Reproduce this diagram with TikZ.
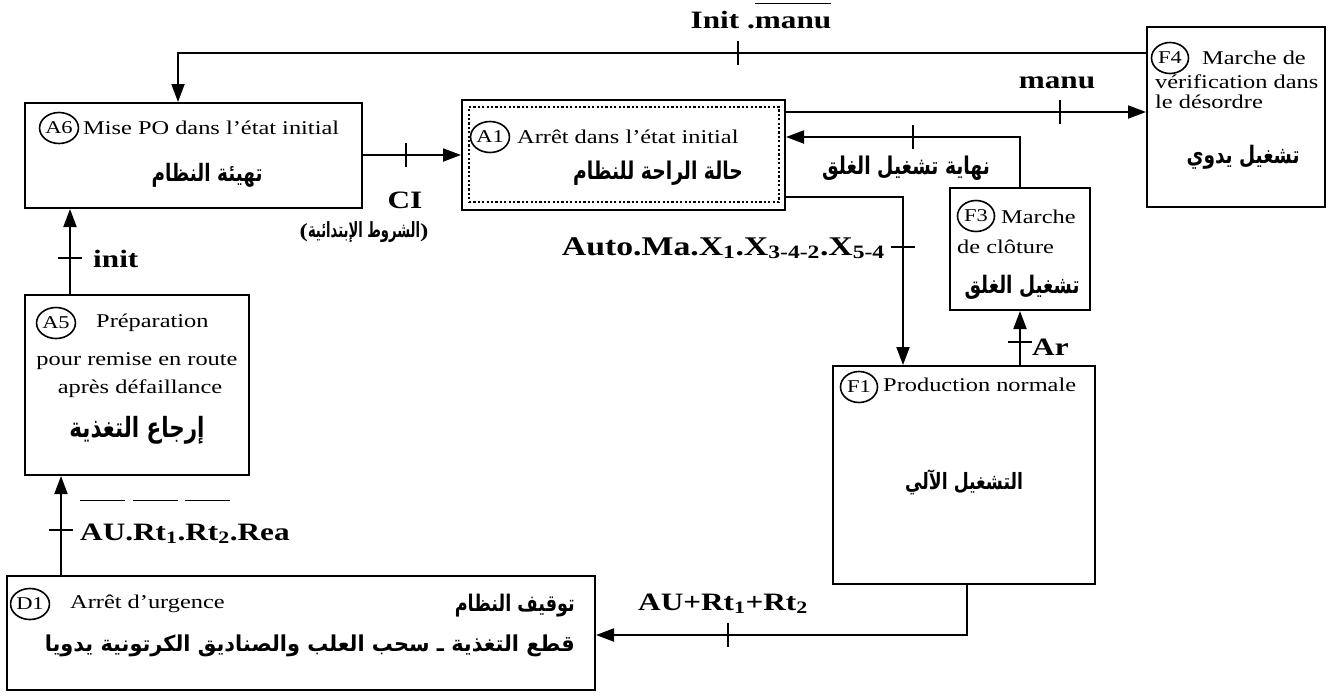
\documentclass[tikz,border=0pt]{standalone}
\usepackage{graphicx}
\usepackage{fontspec}
\setmainfont{Liberation Serif}[FakeStretch=1.25]
\newfontfamily\arabicfont[Script=Arabic]{DejaVu Sans}
\TeXXeTstate=1
\usetikzlibrary{arrows.meta,shapes.geometric,fit}
\newcommand\artxt[3][1.3]{\scalebox{1}[#1]{\resizebox{#2}{!}{\arabicfont\bfseries #3}}}
\newcommand\ovl[2]{\setbox0\hbox{#2}\rlap{\raisebox{#1}{\rule{\wd0}{1.6pt}}}\box0}
\tikzset{
  box/.style={draw, line width=2pt, inner sep=0pt},
  inbox/.style={draw, line width=1.4pt, dash pattern=on 2.2pt off 2.2pt, inner sep=0pt},
  txt/.style={inner sep=0pt, font=\fontsize{19.5}{22}\selectfont},
  lab/.style={inner sep=0pt, font=\fontsize{25}{28}\selectfont\bfseries},
  circ/.style={draw, ellipse, line width=1.6pt, minimum width=37pt, minimum height=31pt, inner sep=0pt, font=\fontsize{18}{18}\selectfont},
  conn/.style={line width=2pt, -{Triangle[length=18pt,width=13pt]}},
  tk/.style={line width=1.6pt}
}
\begin{document}
\begin{tikzpicture}[x=1pt,y=-1pt]
\useasboundingbox (0,0) rectangle (1333,697);
\fill[white] (0,0) rectangle (1333,697);
% boxes
\node[box, fit={(25,103) (362,208)}] (A6) {};
\node[box, fit={(462,100) (785,210)}] (A1) {};
\node[inbox, fit={(469,107) (779,202)}] (A1i) {};
\node[box, fit={(1147,27) (1325,207)}] (F4) {};
\node[box, fit={(950,188) (1090,310)}] (F3) {};
\node[box, fit={(833,366) (1095,584)}] (F1) {};
\node[box, fit={(25,295) (249,475)}] (A5) {};
\node[box, fit={(7,576) (595,690)}] (D1) {};
% box texts
\node[circ] (cA6) at (59,128) {A6};
\node[txt, anchor=west] (tA6) at (83,128) {Mise PO dans l’état initial};
\node[txt] (aA6) at (207,175) {\artxt{111pt}{\beginR تهيئة النظام\endR}};
\node[circ] (cA1) at (490,137) {A1};
\node[txt, anchor=west] (tA1) at (517,137) {Arrêt dans l’état initial};
\node[txt] (aA1) at (658,173) {\artxt{170pt}{\beginR حالة الراحة للنظام\endR}};
\node[circ] (cF4) at (1170,58) {F4};
\node[txt, anchor=west] (tF4a) at (1202,58) {Marche de};
\node[txt, anchor=west] (tF4b) at (1155,82) {vérification dans};
\node[txt, anchor=west] (tF4c) at (1155,102) {le désordre};
\node[txt] (aF4) at (1243,157) {\artxt{113pt}{\beginR تشغيل يدوي\endR}};
\node[circ] (cF3) at (976,216) {F3};
\node[txt, anchor=west] (tF3a) at (1001,217) {Marche};
\node[txt, anchor=west] (tF3b) at (957,247) {de clôture};
\node[txt] (aF3) at (1022,287) {\artxt{115pt}{\beginR تشغيل الغلق\endR}};
\node[circ] (cF1) at (859,387) {F1};
\node[txt, anchor=west] (tF1) at (883,385) {Production normale};
\node[txt] (aF1) at (964,482) {\artxt{118pt}{\beginR التشغيل الآلي\endR}};
\node[circ] (cA5) at (56,323) {A5};
\node[txt, anchor=west] (tA5a) at (96,323) {Préparation};
\node[txt] (tA5b) at (137,361) {pour remise en route};
\node[txt] (tA5c) at (140,389) {après défaillance};
\node[txt] (aA5) at (137,430) {\artxt{135pt}{\beginR إرجاع التغذية\endR}};
\node[circ] (cD1) at (30,604) {D1};
\node[txt, anchor=west] (tD1) at (70,604) {Arrêt d’urgence};
\node[txt, anchor=east] (aD1a) at (575,606) {\artxt{120pt}{\beginR توقيف النظام\endR}};
\node[txt, anchor=east] (aD1b) at (575,646) {\artxt[1.05]{530pt}{\beginR قطع التغذية ـ سحب العلب والصناديق الكرتونية يدويا\endR}};
% connectors
\coordinate (k1) at (178,53);
\draw[conn] (F4.west |- k1) -- (k1) -- (A6.north -| k1);
\draw[tk] (738,41) -- (738,65);
\node[lab, anchor=base] (lInit) at (761,28) {Init .\ovl{0.95em}{manu}};

\coordinate (k2) at (0,155);
\draw[conn] (A6.east |- k2) -- (A1.west |- k2);
\draw[tk] (406,143) -- (406,167);
\node[lab, anchor=base] (lCI) at (405,208) {CI};
\node[inner sep=0pt, font=\fontsize{20}{20}\selectfont\bfseries] (aCI) at (364,232) {(\artxt[1.6]{112pt}{\beginR الشروط الإبتدائية\endR})};

\coordinate (k3) at (0,112);
\draw[conn] (A1.east |- k3) -- (F4.west |- k3);
\draw[tk] (1060,100) -- (1060,124);
\node[lab, anchor=base] (lmanu) at (1057,88) {manu};

\coordinate (k4) at (0,137);
\draw[conn] (F3.north) -- (F3.north |- k4) -- (A1.east |- k4);
\draw[tk] (913,125) -- (913,149);
\node[txt] (aFin) at (906,168) {\artxt{168pt}{\beginR نهاية تشغيل الغلق\endR}};

\coordinate (k5) at (903,197);
\draw[conn] (A1.east |- k5) -- (k5) -- (F1.north -| k5);
\draw[tk] (891,247) -- (915,247);
\node[lab, anchor=base east, font=\fontsize{27}{30}\selectfont\bfseries] (lAuto) at (885,255) {Auto.Ma.X\textsubscript{1}.X\textsubscript{3-4-2}.X\textsubscript{5-4}};

\draw[conn] (F1.north -| F3.south) -- (F3.south);
\draw[tk] (1008,342) -- (1032,342);
\node[lab, anchor=base west] (lAr) at (1032,355) {Ar};

\coordinate (k7) at (967,635);
\draw[conn] (F1.south -| k7) -- (k7) -- (D1.east |- k7);
\draw[tk] (728,623) -- (728,647);
\node[lab, anchor=base] (lAU) at (723,610) {AU+Rt\textsubscript{1}+Rt\textsubscript{2}};

\coordinate (k8) at (61,0);
\draw[conn] (D1.north -| k8) -- (A5.south -| k8);
\draw[tk] (49,530) -- (73,530);
\node[lab, anchor=base west] (lAUR) at (80,540) {\ovl{1.55em}{AU}.\ovl{1.55em}{Rt\textsubscript{1}}.\ovl{1.55em}{Rt\textsubscript{2}}.Rea};

\coordinate (k9) at (70,0);
\draw[conn] (A5.north -| k9) -- (A6.south -| k9);
\draw[tk] (58,258) -- (82,258);
\node[lab, anchor=base west] (linit) at (93,267) {init};
\end{tikzpicture}
\end{document}
